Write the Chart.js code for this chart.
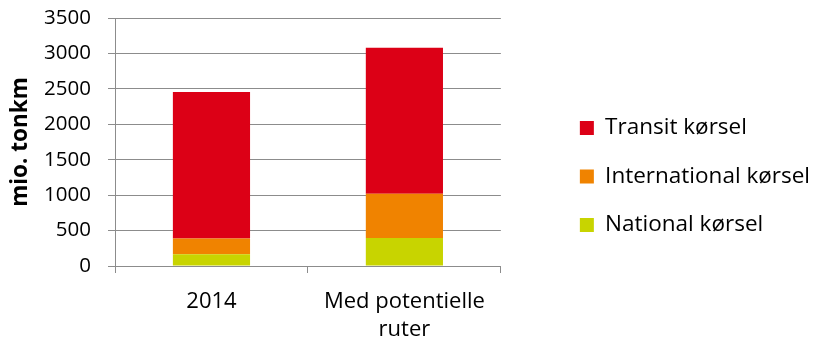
<!DOCTYPE html>
<html>
<head>
<meta charset="utf-8">
<script src="https://cdn.jsdelivr.net/npm/chart.js@4/dist/chart.umd.min.js"></script>
<style>
  html, body { margin: 0; padding: 0; background: #fff; }
  #wrap { width: 814px; height: 346px; }
</style>
</head>
<body>
<div id="wrap"><canvas id="mycanvas" width="814" height="346"></canvas></div>
<script>
var categories = ['2014', ['Med potentielle', 'ruter']];
var national = [165, 395];
var international = [222, 625];
var transit = [2068, 2060];
var yTicks = [0, 500, 1000, 1500, 2000, 2500, 3000, 3500];

var gridColor = '#8c8c8c';
var font = '"Open Sans", sans-serif';

var chartdata = {
	labels: categories,
	datasets: [
		{ label: 'National kørsel', backgroundColor: '#c8d400', data: national },
		{ label: 'International kørsel', backgroundColor: '#f08300', data: international },
		{ label: 'Transit kørsel', backgroundColor: '#dc0016', data: transit }
	]
};

var ctx = document.getElementById('mycanvas');

var barGraph = new Chart(ctx, {
	type: 'bar',
	data: chartdata,
	options: {
		responsive: false,
		animation: false,
		// negative right padding: legend box keeps some empty room on its right
		layout: { padding: { top: 7, bottom: 0, left: 0, right: -6 } },
		datasets: { bar: { categoryPercentage: 1, barPercentage: 0.4 } },
		plugins: {
			legend: {
				position: 'right',
				reverse: true,
				maxWidth: 320,
				labels: {
					boxWidth: 14, boxHeight: 14, padding: 26,
					color: '#000',
					font: { family: font, size: 22.5 }
				}
			},
			tooltip: { enabled: false }
		},
		scales: {
			x: {
				stacked: true,
				grid: { offset: true, drawOnChartArea: false, drawTicks: true, tickLength: 7, color: gridColor, lineWidth: 1 },
				border: { color: gridColor, width: 1 },
				ticks: { color: '#000', padding: 15, font: { family: font, size: 22, lineHeight: 1.27 } },
				afterFit: function(scale) {
					scale.height = 80;
					scale.paddingLeft = 0;
					scale.paddingRight = 0;
				}
			},
			y: {
				stacked: true,
				min: 0, max: 3500,
				afterBuildTicks: function(axis) { axis.ticks = yTicks.map(function(v) { return { value: v }; }); },
				grid: { color: gridColor, lineWidth: 1, tickLength: 7 },
				border: { color: gridColor, width: 1 },
				ticks: { color: '#000', padding: 17, font: { family: font, size: 20.5 }, callback: function(v) { return String(v); } },
				title: { display: true, text: 'mio. tonkm', color: '#000', padding: { top: 7.5, bottom: 0 }, font: { family: font, size: 22.5, weight: 'bold' } },
				afterFit: function(scale) {
					scale.width = 115;
					scale.paddingTop = 18;
					scale.paddingBottom = 0;
				}
			},
			gap: {
				type: 'linear', position: 'right', display: true,
				grid: { display: false }, border: { display: false }, ticks: { display: false },
				afterFit: function(scale) {
					scale.width = 53;
					scale.paddingTop = 0;
					scale.paddingBottom = 0;
				}
			}
		}
	}
});
</script>
</body>
</html>
